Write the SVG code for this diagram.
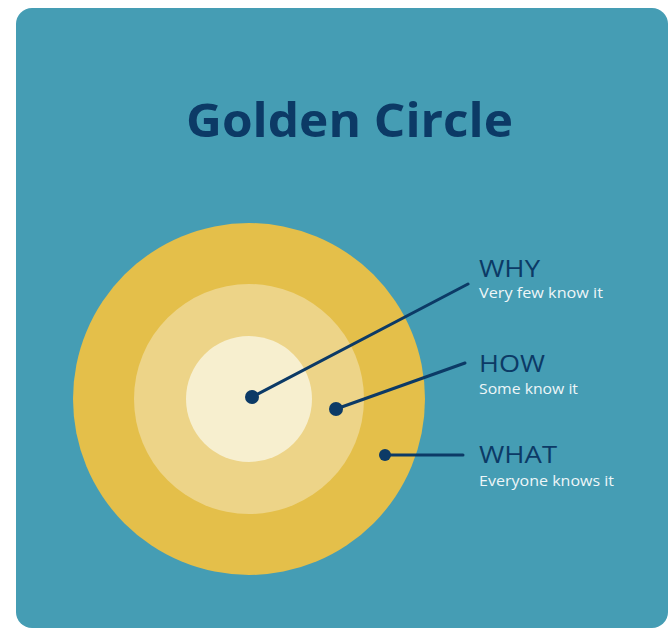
<svg xmlns="http://www.w3.org/2000/svg" width="669" height="629" viewBox="0 0 669 629">
<style>
.title{font-family:"Open Sans","Noto Sans",sans-serif;font-weight:700;font-size:47px;fill:#0c3a66}
.head{font-family:"Open Sans","Noto Sans",sans-serif;font-size:24px;fill:#0c3a66}
.sub{font-family:"Open Sans","Noto Sans",sans-serif;font-size:15px;fill:#eef6f8}
.conn{stroke:#0c3a66;stroke-width:3;fill:none;stroke-linecap:round}
.dot{fill:#0c3a66}
</style>
<rect x="0" y="0" width="669" height="629" fill="#ffffff"/>
<rect x="16" y="8" width="652" height="620" rx="16" fill="#459db4"/>
<text class="title" x="186" y="137" textLength="327" lengthAdjust="spacingAndGlyphs">Golden Circle</text>
<g id="what"><circle cx="249" cy="399" r="176" fill="#e4bf4a"/></g>
<g id="how"><circle cx="249" cy="399" r="115" fill="#edd488"/></g>
<g id="why"><circle cx="249" cy="399" r="63" fill="#f7efcf"/></g>
<g id="connectors">
<line class="conn" x1="252" y1="397" x2="468" y2="284"/>
<line class="conn" x1="336" y1="409" x2="465" y2="363"/>
<line class="conn" x1="385" y1="455" x2="463" y2="455"/>
<circle class="dot" cx="252" cy="397" r="7"/>
<circle class="dot" cx="336" cy="409" r="7"/>
<circle class="dot" cx="385" cy="455" r="6"/>
</g>
<g id="label-why"><text class="head" x="479" y="277" textLength="61" lengthAdjust="spacingAndGlyphs">WHY</text><text class="sub" x="479" y="298" textLength="124" lengthAdjust="spacingAndGlyphs">Very few know it</text></g>
<g id="label-how"><text class="head" x="479" y="372" textLength="66" lengthAdjust="spacingAndGlyphs">HOW</text><text class="sub" x="479" y="394" textLength="99" lengthAdjust="spacingAndGlyphs">Some know it</text></g>
<g id="label-what"><text class="head" x="479" y="463" textLength="78" lengthAdjust="spacingAndGlyphs">WHAT</text><text class="sub" x="479" y="486" textLength="135" lengthAdjust="spacingAndGlyphs">Everyone knows it</text></g>
</svg>
